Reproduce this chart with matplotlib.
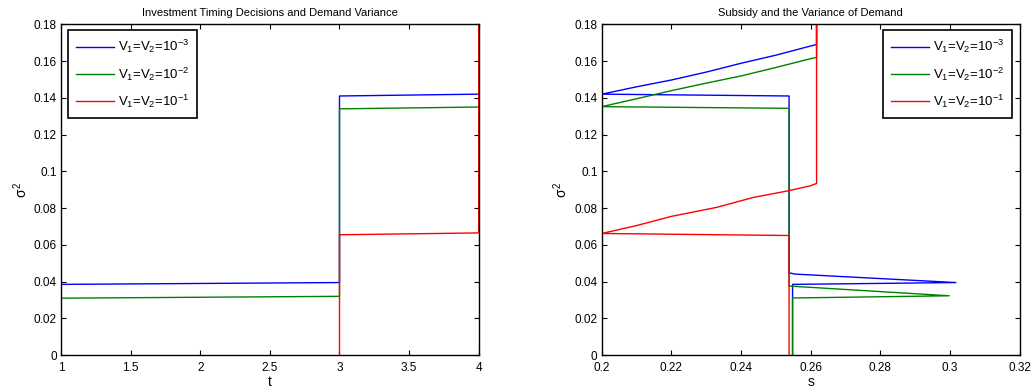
import matplotlib.pyplot as plt

plt.rcParams['font.family'] = ['Liberation Sans', 'DejaVu Sans']
plt.rcParams['mathtext.fontset'] = 'custom'
plt.rcParams['mathtext.rm'] = 'Liberation Sans'
plt.rcParams['mathtext.it'] = 'Liberation Sans'

labels = ['$V_1$=$V_2$=10$^{-3}$', '$V_1$=$V_2$=10$^{-2}$', '$V_1$=$V_2$=10$^{-1}$']
colors = ['#0000ff', '#008000', '#ff0000']

# left panel: sigma^2 against investment time t
t_blue = [1, 1, 3, 3, 4]
sig_t_blue = [0, 0.0385, 0.0395, 0.141, 0.142]
t_green = [1, 1, 3, 3, 4]
sig_t_green = [0, 0.031, 0.032, 0.134, 0.135]
t_red = [3, 3, 4, 4]
sig_t_red = [0, 0.0655, 0.0665, 0.19]

# right panel: sigma^2 against subsidy s
s_blue = [0.2548, 0.2548, 0.3017, 0.2555, 0.2538, 0.2538, 0.2, 0.21, 0.22, 0.23, 0.24, 0.25, 0.26, 0.2617, 0.2617]
sig_s_blue = [0, 0.0385, 0.0395, 0.0441, 0.0448, 0.141, 0.142, 0.146, 0.1497, 0.154, 0.1588, 0.1632, 0.1682, 0.169, 0.19]
s_green = [0.2548, 0.2548, 0.2998, 0.2538, 0.2538, 0.2, 0.21, 0.22, 0.23, 0.24, 0.25, 0.26, 0.2617, 0.2617]
sig_s_green = [0, 0.0311, 0.0323, 0.0376, 0.1343, 0.1352, 0.1395, 0.1439, 0.148, 0.1519, 0.1565, 0.1613, 0.162, 0.19]
s_red = [0.2538, 0.2538, 0.2, 0.21, 0.22, 0.233, 0.2435, 0.2538, 0.26, 0.2617, 0.2617]
sig_s_red = [0, 0.0651, 0.0662, 0.0705, 0.0755, 0.0804, 0.0858, 0.0895, 0.0922, 0.0934, 0.19]

fig = plt.figure(figsize=(10.34, 3.92), dpi=100)
ax1 = fig.add_axes([0.059, 0.094, 0.404, 0.844])
ax2 = fig.add_axes([0.582, 0.094, 0.404, 0.844])

for x, y, c, lab in zip([t_blue, t_green, t_red], [sig_t_blue, sig_t_green, sig_t_red], colors, labels):
    ax1.plot(x, y, color=c, linewidth=1.0, label=lab)
for x, y, c, lab in zip([s_blue, s_green, s_red], [sig_s_blue, sig_s_green, sig_s_red], colors, labels):
    ax2.plot(x, y, color=c, linewidth=1.0, label=lab)

ax1.set_xlim(1, 4)
ax1.set_xticks([1, 1.5, 2, 2.5, 3, 3.5, 4])
ax1.set_xticklabels(['1', '1.5', '2', '2.5', '3', '3.5', '4'])
ax1.set_xlabel('t', labelpad=1)
ax1.set_title('Investment Timing Decisions and Demand Variance', fontsize=8, pad=6)

ax2.set_xlim(0.2, 0.32)
ax2.set_xticks([0.2, 0.22, 0.24, 0.26, 0.28, 0.3, 0.32])
ax2.set_xticklabels(['0.2', '0.22', '0.24', '0.26', '0.28', '0.3', '0.32'])
ax2.set_xlabel('s', labelpad=1)
ax2.set_title('Subsidy and the Variance of Demand', fontsize=8, pad=6)

for ax in (ax1, ax2):
    ax.set_ylim(0, 0.18)
    ax.set_yticks([0, 0.02, 0.04, 0.06, 0.08, 0.1, 0.12, 0.14, 0.16, 0.18])
    ax.set_yticklabels(['0', '0.02', '0.04', '0.06', '0.08', '0.1', '0.12', '0.14', '0.16', '0.18'])
    ax.set_ylabel('$\\sigma^2$', labelpad=3)
    ax.tick_params(direction='in', top=True, right=True, length=3.5, labelsize=8.5)
    ax.tick_params(axis='x', pad=5)
    ax.tick_params(axis='y', pad=3)
    for sp in ax.spines.values():
        sp.set_linewidth(1.0)

leg_kw = dict(fontsize=9.5, frameon=True, fancybox=False, edgecolor='black', handlelength=2.9,
              handletextpad=0.3, borderaxespad=0, labelspacing=0.75, borderpad=0.6)
leg1 = ax1.legend(loc='upper left', bbox_to_anchor=(0.017, 0.982), **leg_kw)
leg2 = ax2.legend(loc='upper right', bbox_to_anchor=(0.983, 0.982), **leg_kw)
for leg in (leg1, leg2):
    leg.get_frame().set_linewidth(1.2)
    leg.get_frame().set_alpha(1)

fig.savefig('out.png', dpi=100)
